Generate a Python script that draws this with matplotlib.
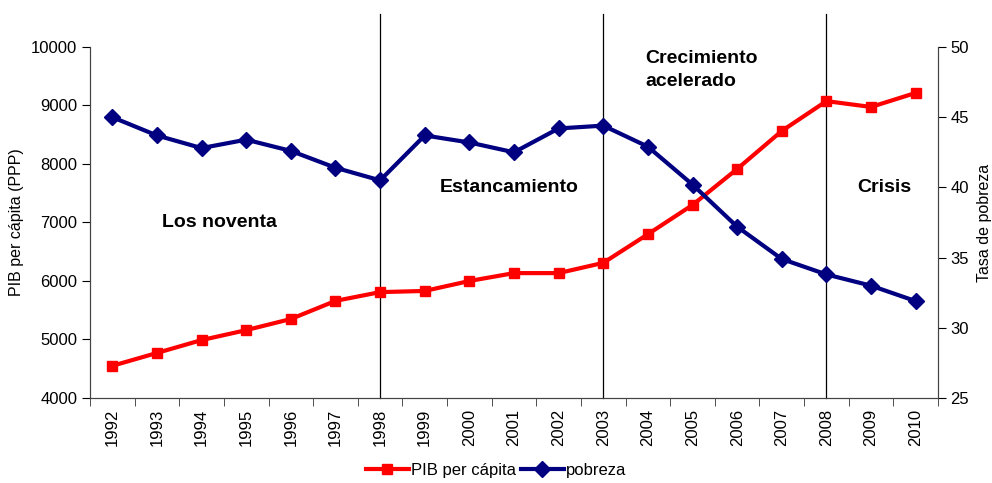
import numpy as np
import matplotlib
matplotlib.use("Agg")
import matplotlib.pyplot as plt

plt.rcParams['font.family'] = ['Liberation Sans', 'DejaVu Sans']

years = ['1992', '1993', '1994', '1995', '1996', '1997', '1998', '1999', '2000', '2001',
         '2002', '2003', '2004', '2005', '2006', '2007', '2008', '2009', '2010']
pib = [4550, 4770, 4990, 5160, 5350, 5660, 5810, 5830, 6000, 6135,
       6135, 6310, 6800, 7300, 7915, 8565, 9075, 8975, 9215]
pobreza = [45.0, 43.7, 42.8, 43.4, 42.6, 41.4, 40.5, 43.7, 43.2, 42.5,
           44.2, 44.4, 42.9, 40.2, 37.2, 34.9, 33.8, 33.0, 31.9]
period_breaks = ['1998', '2003', '2008']
period_labels = ['Los noventa', 'Estancamiento', 'Crecimiento\nacelerado', 'Crisis']

W, H = 992, 483
fig = plt.figure(figsize=(W / 100, H / 100), dpi=100)
ax = fig.add_axes([90 / W, 1 - 398 / H, (938 - 90) / W, (398 - 47) / H])
ax2 = ax.twinx()

x = np.arange(len(years))
l1, = ax.plot(x, pib, color='#ff0000', lw=3, marker='s', ms=7, zorder=3)
l2, = ax2.plot(x, pobreza, color='#000080', lw=3, marker='D', ms=8, zorder=3)

ax.set_xlim(-0.5, len(years) - 0.5)
ax.set_ylim(4000, 10000)
ax.set_yticks(np.arange(4000, 10001, 1000))
ax2.set_ylim(25, 50)
ax2.set_yticks(np.arange(25, 51, 5))

ax.set_xticks(x)
ax.set_xticklabels(years, rotation=90)
ax.set_xticks(np.arange(-0.5, len(years), 1), minor=True)
ax.tick_params(axis='x', which='major', length=0, pad=8, labelsize=12)
ax.tick_params(axis='x', which='minor', length=6, direction='out', color='#333333')
ax.tick_params(axis='y', length=6, labelsize=12, pad=3)
ax2.tick_params(axis='y', length=6, labelsize=12, pad=3)

for a in (ax, ax2):
    a.spines['top'].set_visible(False)
    for s in ('left', 'right', 'bottom'):
        a.spines[s].set_color('#444444')

ax.set_ylabel('PIB per cápita (PPP)', fontsize=11.5, labelpad=5)
ax2.set_ylabel('Tasa de pobreza', fontsize=11.5, labelpad=6)

# period separators extend above the plot area
for yr in period_breaks:
    xi = years.index(yr)
    ax.plot([xi, xi], [0, 1.094], transform=ax.get_xaxis_transform(),
            color='black', lw=0.9, clip_on=False, zorder=2)

ax.text(2.4, 7000, period_labels[0], fontsize=14, fontweight='bold', ha='center', va='center')
ax.text(8.9, 7600, period_labels[1], fontsize=14, fontweight='bold', ha='center', va='center')
ax.text(11.95, 9600, period_labels[2], fontsize=14, fontweight='bold', ha='left', va='center',
        linespacing=1.45)
ax.text(17.3, 7600, period_labels[3], fontsize=14, fontweight='bold', ha='center', va='center')

fig.legend([l1, l2], ['PIB per cápita', 'pobreza'], loc='center', bbox_to_anchor=(0.5, 1 - 470 / H),
           ncol=2, frameon=False, fontsize=12, handlelength=2.6, columnspacing=0.3,
           handletextpad=0.1, borderpad=0)

fig.savefig('out.png', dpi=100)
